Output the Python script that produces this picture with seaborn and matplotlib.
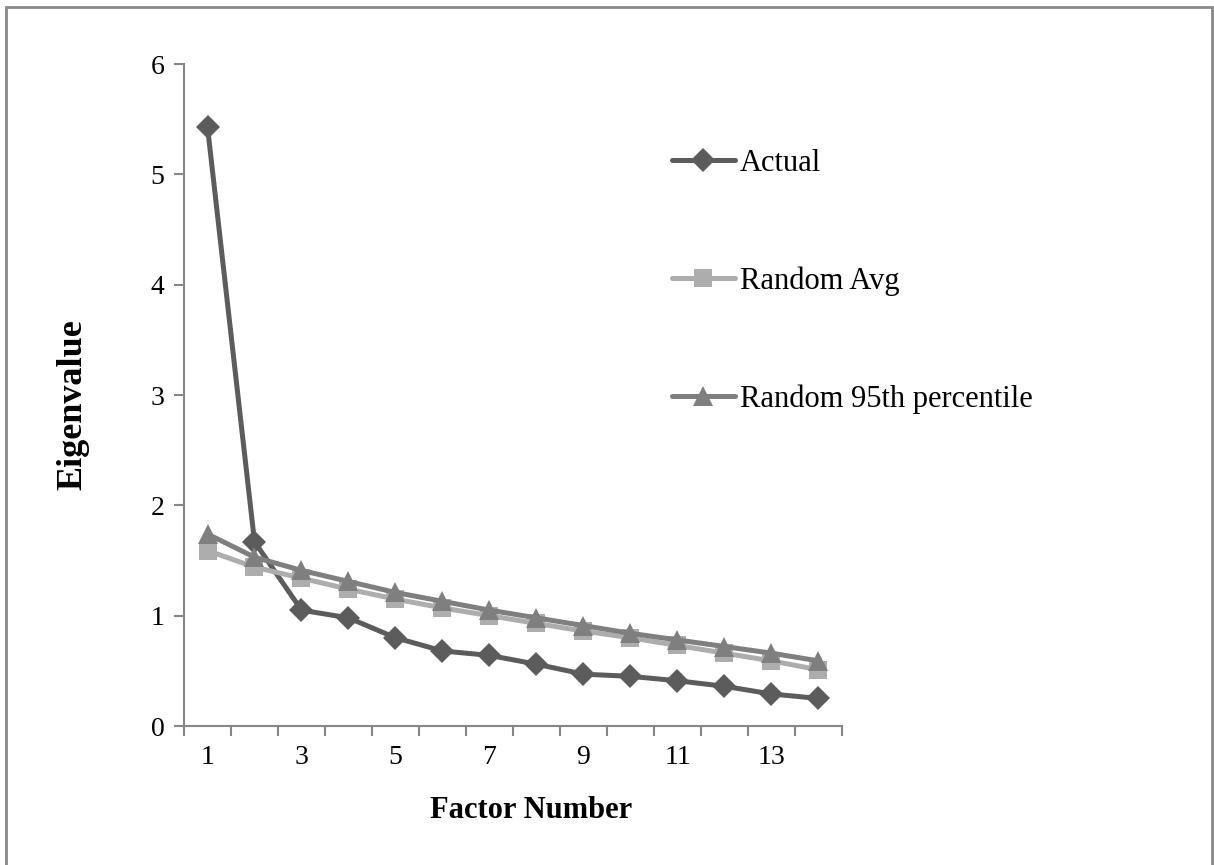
import pandas as pd
import matplotlib.pyplot as plt
import seaborn as sns
from matplotlib.patches import Rectangle
from matplotlib.ticker import FixedLocator

# Parallel analysis eigenvalues
factors = list(range(1, 15))
actual = [5.43, 1.67, 1.05, 0.98, 0.80, 0.68, 0.64, 0.56, 0.47, 0.45, 0.41, 0.36, 0.29, 0.25]
random_avg = [1.59, 1.44, 1.34, 1.24, 1.15, 1.07, 1.00, 0.93, 0.86, 0.80, 0.73, 0.66, 0.59, 0.51]
random_95 = [1.74, 1.53, 1.41, 1.31, 1.21, 1.13, 1.05, 0.98, 0.91, 0.84, 0.78, 0.72, 0.66, 0.59]
series_names = ["Actual", "Random Avg", "Random 95th percentile"]
series_colors = ["#5c5c5c", "#adadad", "#7f7f7f"]
marker_sizes = [12, 13, 14]

df = pd.DataFrame({
    "Factor": factors * 3,
    "Eigenvalue": actual + random_avg + random_95,
    "Series": [s for s in series_names for _ in factors],
})

sns.set_style("white")
plt.rcParams["font.family"] = ["Liberation Serif", "DejaVu Serif"]
plt.rcParams["text.color"] = "black"
plt.rcParams["xtick.color"] = "#868686"
plt.rcParams["ytick.color"] = "#868686"
plt.rcParams["xtick.labelcolor"] = "black"
plt.rcParams["ytick.labelcolor"] = "black"
plt.rcParams["axes.labelcolor"] = "black"

fig = plt.figure(figsize=(12.14, 8.65), dpi=100)
ax = fig.add_axes([184 / 1214, 139 / 865, 658 / 1214, 662 / 865])

sns.lineplot(data=df, x="Factor", y="Eigenvalue", hue="Series", style="Series",
             palette=series_colors, markers=["D", "s", "^"], dashes=False,
             linewidth=3.6, markersize=11, markeredgewidth=0, ax=ax)

# per-series marker sizes, as in the original chart
for line, ms in zip(ax.lines[:3], marker_sizes):
    line.set_markersize(ms)

# category-style axis: ticks between categories, labels on odd factors
ax.set_xlim(0.5, 14.5)
ax.set_ylim(0, 6)
ax.set_yticks(range(0, 7))
ax.xaxis.set_major_locator(FixedLocator([1, 3, 5, 7, 9, 11, 13]))
ax.xaxis.set_minor_locator(FixedLocator([i + 0.5 for i in range(0, 15)]))
ax.tick_params(axis="x", which="major", bottom=True, length=0, pad=14, labelsize=20)
ax.tick_params(axis="x", which="minor", bottom=True, length=7, width=1.5, direction="out")
ax.tick_params(axis="y", left=True, length=7, width=1.5, direction="out", pad=7, labelsize=20)
for side in ["top", "right"]:
    ax.spines[side].set_visible(False)
for side in ["left", "bottom"]:
    ax.spines[side].set_color("#868686")
    ax.spines[side].set_linewidth(1.5)

ax.set_xlabel("Factor Number", fontsize=22, fontweight="bold")
ax.set_ylabel("Eigenvalue", fontsize=26, fontweight="bold")
ax.xaxis.set_label_coords(0.527, -0.105)
ax.yaxis.set_label_coords(-0.144, 0.486)

sns.move_legend(ax, "upper left", bbox_to_anchor=(672 / 1214, 0.828),
                bbox_transform=fig.transFigure, frameon=False, title=None,
                fontsize=22, labelspacing=2.9, handlelength=2.05,
                handletextpad=0.17, borderpad=0, borderaxespad=0)
for handle, ms in zip(ax.get_legend().legend_handles, marker_sizes):
    handle.set_markersize(ms)

# outer chart border
fig.patches.append(Rectangle((6 / 1214, -0.05), 1206 / 1214, 0.05 + 858 / 865,
                             transform=fig.transFigure, fill=False,
                             edgecolor="#898989", linewidth=2))

plt.savefig("out.png", dpi=100)
